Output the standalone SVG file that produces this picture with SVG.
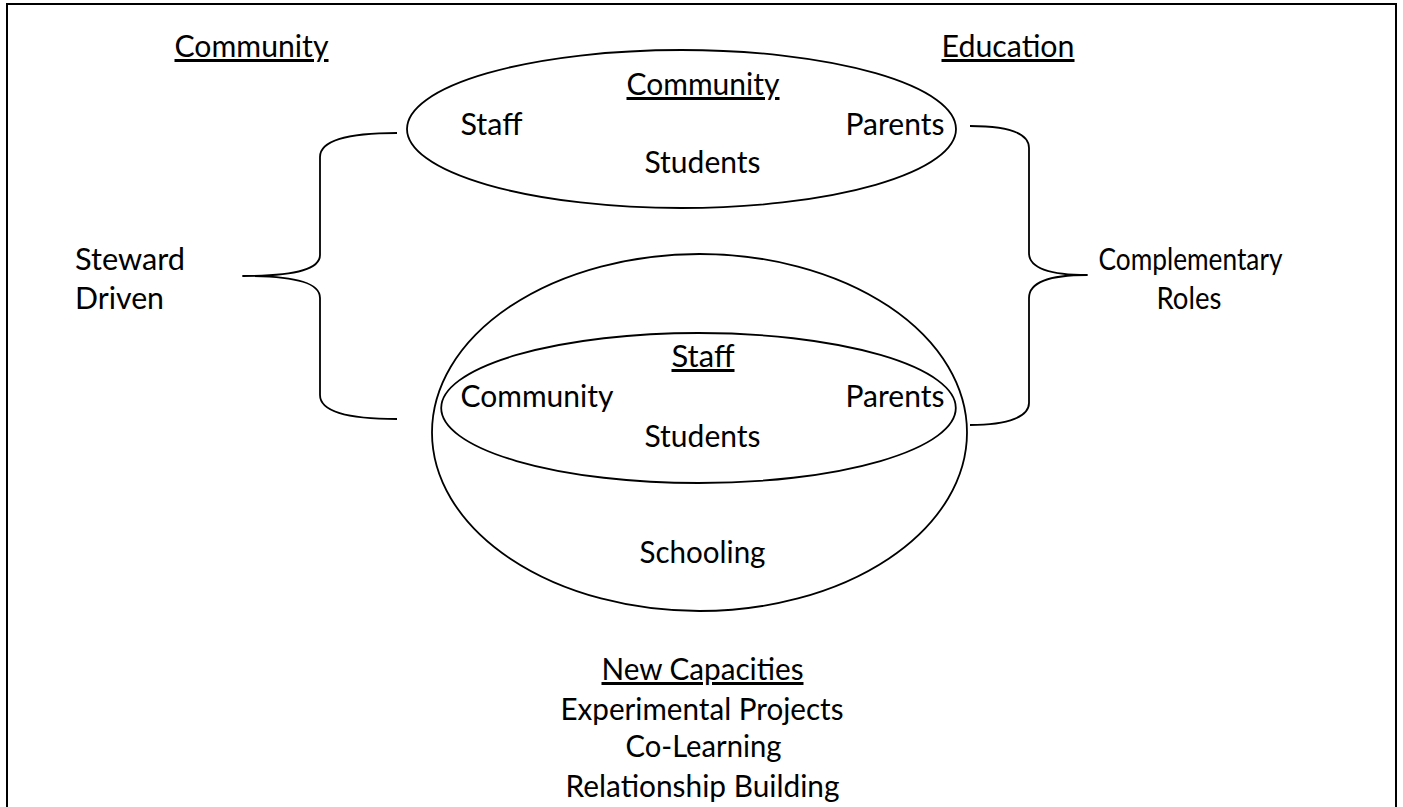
<svg xmlns="http://www.w3.org/2000/svg" width="1403" height="807" viewBox="0 0 1403 807">
  <style>
    text { font-family: Lato, "Open Sans", "Liberation Sans", sans-serif; font-size: 30px; fill: #000; }
    .c { text-anchor: middle; }
    .s { text-anchor: start; }
    .u { text-decoration: underline; }
    .shape { fill: none; stroke: #000; stroke-width: 1.8; }
    .brace { fill: none; stroke: #000; stroke-width: 1.8; stroke-linejoin: round; }
  </style>

  <!-- page frame -->
  <rect x="7" y="4" width="1389" height="830" fill="#fff" stroke="#000" stroke-width="2"/>

  <!-- column headings -->
  <g id="heading-community">
    <text class="c u" x="251.5" y="57" textLength="154" lengthAdjust="spacingAndGlyphs">Community</text>
  </g>
  <g id="heading-education">
    <text class="c u" x="1008" y="57" textLength="133" lengthAdjust="spacingAndGlyphs">Education</text>
  </g>

  <!-- community-centred model -->
  <g id="community-model">
    <ellipse class="shape" cx="681.5" cy="129" rx="274.5" ry="79"/>
    <text class="c u" x="703" y="95" textLength="153" lengthAdjust="spacingAndGlyphs">Community</text>
    <text class="c" x="491.5" y="135" textLength="62" lengthAdjust="spacingAndGlyphs">Staff</text>
    <text class="c" x="895" y="135" textLength="99" lengthAdjust="spacingAndGlyphs">Parents</text>
    <text class="c" x="702.5" y="173" textLength="116" lengthAdjust="spacingAndGlyphs">Students</text>
  </g>

  <!-- schooling model -->
  <g id="schooling-model">
    <ellipse class="shape" cx="699.5" cy="432.5" rx="267.5" ry="178.5"/>
    <text class="c" x="702.5" y="563" textLength="126" lengthAdjust="spacingAndGlyphs">Schooling</text>
  </g>
  <g id="staff-model">
    <ellipse class="shape" cx="698.5" cy="408" rx="257.3" ry="75"/>
    <text class="c u" x="703" y="367" textLength="63" lengthAdjust="spacingAndGlyphs">Staff</text>
    <text class="c" x="537" y="407" textLength="153" lengthAdjust="spacingAndGlyphs">Community</text>
    <text class="c" x="895" y="407" textLength="99" lengthAdjust="spacingAndGlyphs">Parents</text>
    <text class="c" x="702.5" y="447" textLength="116" lengthAdjust="spacingAndGlyphs">Students</text>
  </g>

  <!-- side labels -->
  <g id="steward-driven">
    <text class="s" x="75" y="270" textLength="110" lengthAdjust="spacingAndGlyphs">Steward</text>
    <text class="s" x="75" y="309" textLength="89" lengthAdjust="spacingAndGlyphs">Driven</text>
  </g>
  <g id="complementary-roles">
    <text class="c" x="1190.5" y="270" textLength="184" lengthAdjust="spacingAndGlyphs">Complementary</text>
    <text class="c" x="1189" y="309" textLength="65" lengthAdjust="spacingAndGlyphs">Roles</text>
  </g>

  <!-- new capacities list -->
  <g id="new-capacities">
    <text class="c u" x="702.5" y="680" textLength="202" lengthAdjust="spacingAndGlyphs">New Capacities</text>
    <text class="c" x="702" y="720" textLength="283" lengthAdjust="spacingAndGlyphs">Experimental Projects</text>
    <text class="c" x="703.5" y="757" textLength="156" lengthAdjust="spacingAndGlyphs">Co-Learning</text>
    <text class="c" x="702.5" y="797" textLength="274" lengthAdjust="spacingAndGlyphs">Relationship Building</text>
  </g>

  <!-- braces linking both models to their labels -->
  <g id="connectors">
    <path class="brace" d="M397,133 C342,133 320,142 320,157 L320,255 C320,268 300,276 243,276 C300,276 320,284 320,298 L320,395 C320,410 342,419 397,419"/>
    <path class="brace" d="M970,126 C1010,126 1029,134 1029,148 L1029,253 C1029,266 1045,275 1087,275 C1045,275 1029,284 1029,298 L1029,403 C1029,416 1010,425 970,425"/>
  </g>
</svg>
